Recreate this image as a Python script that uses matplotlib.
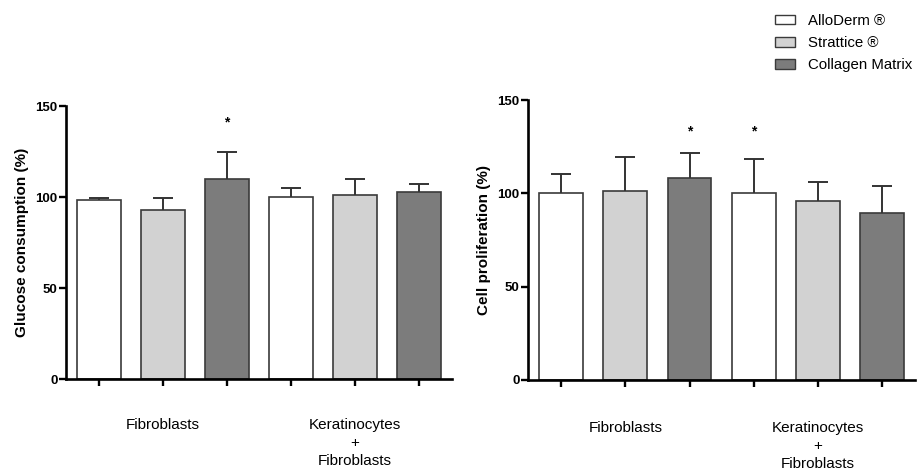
import numpy as np
import matplotlib
matplotlib.use("Agg")
import matplotlib.pyplot as plt
from matplotlib.patches import Patch

plt.rcParams['font.family'] = ['Liberation Sans', 'DejaVu Sans']

# data
materials = ['AlloDerm ®', 'Strattice ®', 'Collagen Matrix']
groups = ['Fibroblasts', 'Keratinocytes\n+\nFibroblasts']
group_pos = [1, 4]   # label sits under the middle bar of each group

glucose_mean = [98.5, 92.9, 110.0, 99.9, 101.4, 102.6]
glucose_err = [1.3, 6.8, 15.0, 5.3, 8.4, 4.4]
glucose_star = [2]
glucose_star_y = 141

prolif_mean = [100.0, 101.0, 108.2, 100.0, 95.7, 89.3]
prolif_err = [10.3, 18.3, 13.2, 18.2, 10.3, 14.4]
prolif_star = [2, 3]
prolif_star_y = 133

yticks = [0, 50, 100, 150]
colors = ['#ffffff', '#d2d2d2', '#7c7c7c']
edge = '#3a3a3a'


def panel(ax, means, errs, stars, star_y, ylabel, label_off):
    x = np.arange(len(means))
    fc = [colors[i % 3] for i in x]
    ax.bar(x, means, width=0.68, color=fc, edgecolor=edge, linewidth=1.2, zorder=2)
    _, caps, _ = ax.errorbar(x, means, yerr=[np.zeros(len(errs)), errs], fmt='none',
                             ecolor='#333333', elinewidth=1.4, capsize=7.5, capthick=1.4,
                             zorder=3)
    caps[0].set_visible(False)   # only the upper half is drawn
    for i in stars:
        ax.text(i, star_y, '*', ha='center', va='center', fontsize=10, fontweight='bold')
    ax.set_xlim(-0.515, 5.515)
    ax.set_ylim(0, 150)
    ax.set_yticks(yticks)
    ax.set_xticks(x)
    ax.set_xticklabels([])
    for s in ['top', 'right']:
        ax.spines[s].set_visible(False)
    for s in ['left', 'bottom']:
        ax.spines[s].set_linewidth(1.9)
    ax.tick_params(axis='both', width=1.7, length=5)
    ax.tick_params(axis='y', pad=1, labelsize=9.5)
    for t in ax.get_yticklabels():
        t.set_fontweight('bold')
    ax.set_ylabel(ylabel, fontsize=11, fontweight='bold', labelpad=5)
    for p, g in zip(group_pos, groups):
        ax.annotate(g, xy=(p, 0), xycoords=('data', 'axes fraction'),
                    xytext=(0, -label_off), textcoords='offset points',
                    ha='center', va='top', fontsize=11, multialignment='center',
                    linespacing=1.35)


fig = plt.figure(figsize=(9.2, 4.72), dpi=100)
ax1 = fig.add_axes([0.0717, 0.197, 0.4196, 0.578])
ax2 = fig.add_axes([0.574, 0.195, 0.4207, 0.593])

panel(ax1, glucose_mean, glucose_err, glucose_star, glucose_star_y,
      'Glucose consumption (%)', 28)
panel(ax2, prolif_mean, prolif_err, prolif_star, prolif_star_y,
      'Cell proliferation (%)', 29.5)

handles = [Patch(facecolor=c, edgecolor=edge, linewidth=1.0) for c in colors]
fig.legend(handles, materials, loc='upper left', bbox_to_anchor=(775 / 920, 1 - 14 / 472),
           frameon=False, fontsize=10.8, borderpad=0, borderaxespad=0,
           handlelength=1.35, handleheight=0.6, handletextpad=0.85, labelspacing=0.55)

fig.savefig('out.png', dpi=100)
